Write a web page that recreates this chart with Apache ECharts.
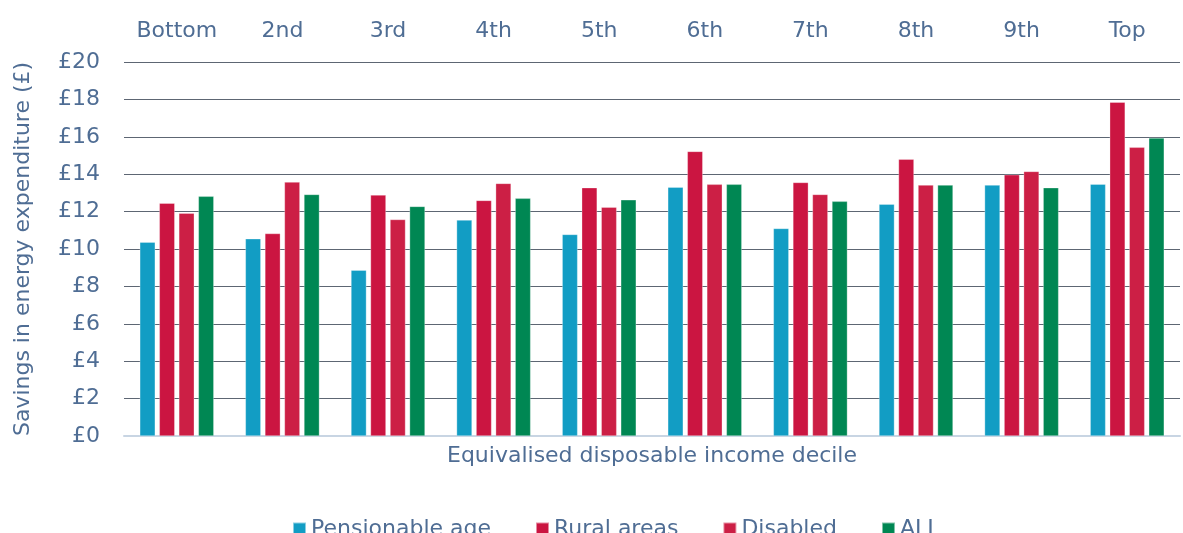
<!DOCTYPE html>
<html><head><meta charset="utf-8">
<script src="https://cdn.jsdelivr.net/npm/echarts@6/dist/echarts.min.js"></script>
<style>html,body{margin:0;padding:0;background:#fff}#c{width:1183px;height:533px}</style>
</head><body><div id="c"></div>
<script>
const categories = ['Bottom','2nd','3rd','4th','5th','6th','7th','8th','9th','Top'];
const pensionable = [10.37,10.55,8.87,11.55,10.78,13.31,11.10,12.40,13.42,13.47];
const rural       = [12.45,10.83,12.89,12.60,13.28,15.22,13.56,14.80,13.97,17.85];
const disabled    = [11.92,13.58,11.58,13.51,12.24,13.46,12.92,13.42,14.15,15.44];
const allHH       = [12.82,12.92,12.28,12.71,12.63,13.46,12.55,13.42,13.28,15.94];
const yTicks = [0,2,4,6,8,10,12,14,16,18,20];

const txt = '#4f6d94';
const font = 'DejaVu Sans';
const fs = 22;
const chart = echarts.init(document.getElementById('c'), null, {renderer:'canvas'});
function bar(name, data, color){
  return {name, type:'bar', data, xAxisIndex:0, barWidth:15.5, barGap:'26%',
    itemStyle:{color, borderColor:'rgba(255,255,255,0.5)', borderWidth:0.6}};
}
chart.setOption({
  animation:false,
  textStyle:{fontFamily:font},
  grid:{left:124, right:3, top:62, bottom:97},
  legend:{top:513, left:287, itemWidth:13, itemHeight:13, itemGap:44, icon:'rect',
    textStyle:{color:txt, fontSize:fs, fontFamily:font},
    data:['Pensionable age','Rural areas','Disabled','ALL']},
  xAxis:[
    {type:'category', data:categories, position:'top', axisLine:{show:false}, axisTick:{show:false},
     axisLabel:{color:txt, fontSize:fs, fontFamily:font, margin:20}},
    {type:'category', data:categories, position:'bottom', axisLine:{show:true, lineStyle:{color:'#c8d5e3', width:2}},
     axisTick:{show:false}, axisLabel:{show:false},
     name:'Equivalised disposable income decile', nameLocation:'middle', nameGap:9,
     nameTextStyle:{color:txt, fontSize:fs, fontFamily:font, verticalAlign:'top'}}
  ],
  yAxis:{type:'value', min:yTicks[0], max:yTicks[yTicks.length-1], interval:2,
    axisLine:{show:false}, axisTick:{show:false},
    axisLabel:{color:txt, fontSize:fs, fontFamily:font, margin:24, formatter:v=>'£'+v},
    splitLine:{lineStyle:{color:'#5d6673', width:1}},
    name:'Savings in energy expenditure (£)', nameLocation:'middle', nameGap:90, nameRotate:90,
    nameTextStyle:{color:txt, fontSize:fs, fontFamily:font}},
  series:[
    bar('Pensionable age', pensionable, '#129dc4'),
    bar('Rural areas', rural, '#cb1541'),
    bar('Disabled', disabled, '#cc1f45'),
    bar('ALL', allHH, '#008753')
  ]
});
</script></body></html>
